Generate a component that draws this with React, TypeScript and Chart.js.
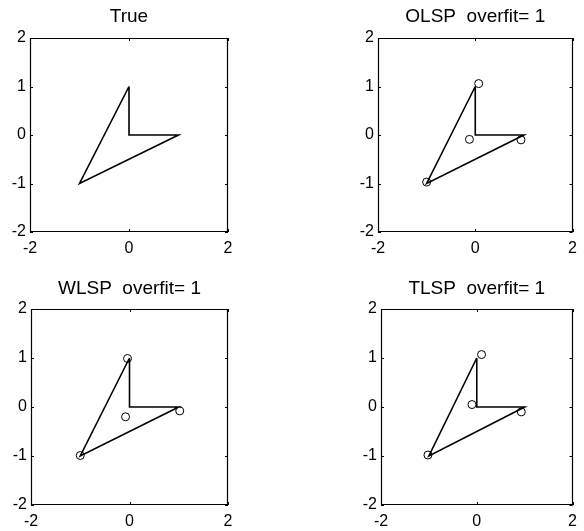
import React, { useEffect, useRef } from "react";
import { Chart, registerables } from "chart.js";

Chart.register(...registerables);

// True polygon (closed): vertices in drawing order
const polyX = [0, 0, 1, -1, 0];
const polyY = [1, 0, 0, -1, 1];

// Estimated points (circles)
const olspX = [0.07, -0.12, 0.94, -1.0];
const olspY = [1.06, -0.09, -0.1, -0.97];
const wlspX = [-0.04, -0.08, 1.02, -1.0];
const wlspY = [0.99, -0.2, -0.08, -0.99];
const tlspX = [0.1, -0.1, 0.93, -1.02];
const tlspY = [1.07, 0.05, -0.1, -0.98];

const xTicks = [-2, 0, 2];
const yTicks = [-2, -1, 0, 1, 2];

const titles = ["True", "OLSP  overfit= 1", "WLSP  overfit= 1", "TLSP  overfit= 1"];

const FONT = "'Liberation Sans', Arial, Helvetica, sans-serif";
const TICK_SIZE = 16;
const TITLE_SIZE = 19;

type Panel = {
  title: string;
  px?: number[];
  py?: number[];
  left: number; top: number; w: number; h: number;
  areaL: number; areaR: number; areaT: number; areaB: number; titleY: number;
};

const panels: Panel[] = [
  { title: titles[0], left: 0, top: 0, w: 292, h: 265, areaL: 30, areaR: 228, areaT: 38, areaB: 232, titleY: 17 },
  { title: titles[1], px: olspX, py: olspY, left: 292, top: 0, w: 292, h: 265, areaL: 86, areaR: 284, areaT: 38, areaB: 232, titleY: 17 },
  { title: titles[2], px: wlspX, py: wlspY, left: 0, top: 265, w: 292, h: 266, areaL: 31, areaR: 228, areaT: 44, areaB: 240, titleY: 24 },
  { title: titles[3], px: tlspX, py: tlspY, left: 292, top: 265, w: 292, h: 266, areaL: 89, areaR: 285, areaT: 44, areaB: 240, titleY: 24 },
];

const framePlugin = {
  id: "frame",
  afterDatasetsDraw(chart: any) {
    const { ctx, chartArea } = chart;
    const { left, right, top, bottom } = chartArea;
    ctx.save();
    ctx.strokeStyle = "#000";
    ctx.lineWidth = 1.2;
    ctx.beginPath();
    ctx.rect(Math.round(left) + 0.5, Math.round(top) + 0.5, Math.round(right - left) - 1, Math.round(bottom - top) - 1);
    ctx.stroke();
    const tl = 3;
    const xs = chart.scales.x;
    const ys = chart.scales.y;
    ctx.lineWidth = 1;
    ctx.beginPath();
    xTicks.forEach((v) => {
      const p = Math.round(xs.getPixelForValue(v)) + 0.5;
      ctx.moveTo(p, bottom);
      ctx.lineTo(p, bottom - tl);
      ctx.moveTo(p, top);
      ctx.lineTo(p, top + tl);
    });
    yTicks.forEach((v) => {
      const p = Math.round(ys.getPixelForValue(v)) + 0.5;
      ctx.moveTo(left, p);
      ctx.lineTo(left + tl, p);
      ctx.moveTo(right, p);
      ctx.lineTo(right - tl, p);
    });
    ctx.stroke();
    ctx.restore();
  },
};

function PanelChart({ p }: { p: Panel }) {
  const ref = useRef<HTMLCanvasElement>(null);
  useEffect(() => {
    if (!ref.current) return;
    const datasets: any[] = [
      {
        data: polyX.map((x, i) => ({ x, y: polyY[i] })),
        showLine: true,
        borderColor: "#000",
        borderWidth: 1.6,
        pointRadius: 0,
        fill: false,
        tension: 0,
      },
    ];
    if (p.px && p.py) {
      datasets.push({
        data: p.px.map((x, i) => ({ x, y: p.py![i] })),
        showLine: false,
        pointStyle: "circle",
        pointRadius: 4,
        pointBorderWidth: 1,
        pointBorderColor: "#000",
        pointBackgroundColor: "#fff",
      });
    }
    const lh = TITLE_SIZE * 1.2;
    const tPadTop = p.titleY - lh / 2;
    const tPadBottom = p.areaT - lh - tPadTop;
    const chart = new Chart(ref.current, {
      type: "scatter",
      data: { datasets },
      plugins: [framePlugin],
      options: {
        animation: false,
        responsive: false,
        devicePixelRatio: 1,
        layout: { padding: { left: 0, top: 0, right: p.w - p.areaR, bottom: 0 } },
        plugins: {
          legend: { display: false },
          tooltip: { enabled: false },
          title: {
            display: true,
            text: p.title,
            fullSize: false,
            color: "#000",
            font: { family: FONT, size: TITLE_SIZE, weight: "normal" },
            padding: { top: tPadTop, bottom: tPadBottom },
          },
        },
        scales: {
          x: {
            type: "linear",
            min: -2,
            max: 2,
            afterBuildTicks: (s: any) => { s.ticks = xTicks.map((v) => ({ value: v })); },
            afterFit: (s: any) => { s.height = p.h - p.areaB; },
            grid: { display: false, drawTicks: false },
            border: { display: false },
            ticks: {
              color: "#000",
              padding: 7,
              maxRotation: 0,
              autoSkip: false,
              font: { family: FONT, size: TICK_SIZE },
            },
          },
          y: {
            type: "linear",
            min: -2,
            max: 2,
            afterBuildTicks: (s: any) => { s.ticks = yTicks.map((v) => ({ value: v })); },
            afterFit: (s: any) => { s.width = p.areaL; },
            grid: { display: false, drawTicks: false },
            border: { display: false },
            ticks: {
              color: "#000",
              padding: 4,
              autoSkip: false,
              font: { family: FONT, size: TICK_SIZE },
            },
          },
        },
      },
    });
    return () => chart.destroy();
  }, [p]);
  return (
    <canvas
      ref={ref}
      width={p.w}
      height={p.h}
      style={{ position: "absolute", left: p.left, top: p.top, width: p.w, height: p.h }}
    />
  );
}

export default function App() {
  return (
    <div style={{ position: "absolute", left: 0, top: 0, width: 584, height: 531, background: "#fff" }}>
      {panels.map((p, i) => (
        <PanelChart key={i} p={p} />
      ))}
    </div>
  );
}
